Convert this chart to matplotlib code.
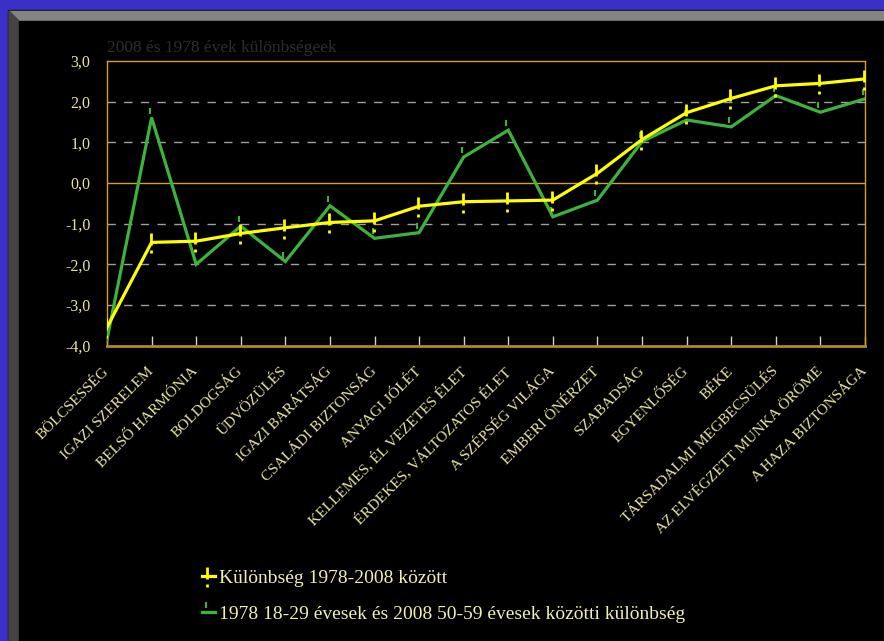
import numpy as np
import matplotlib
matplotlib.use('Agg')
import matplotlib.pyplot as plt
from matplotlib.patches import Rectangle, Polygon
from matplotlib.path import Path
from matplotlib.lines import Line2D

# data
categories = ['BÖLCSESSÉG', 'IGAZI SZERELEM', 'BELSŐ HARMÓNIA', 'BOLDOGSÁG',
              'ÜDVÖZÜLÉS', 'IGAZI BARÁTSÁG', 'CSALÁDI BIZTONSÁG', 'ANYAGI JÓLÉT',
              'KELLEMES, ÉL VEZETES ÉLET', 'ÉRDEKES, VÁLTOZATOS ÉLET',
              'A SZÉPSÉG VILÁGA', 'EMBERI ÖNÉRZET', 'SZABADSÁG', 'EGYENLŐSÉG',
              'BÉKE', 'TÁRSADALMI MEGBECSÜLÉS', 'AZ ELVÉGZETT MUNKA ÖRÖME',
              'A HAZA BIZTONSÁGA']
diff_all = [-3.55, -1.46, -1.43, -1.24, -1.10, -0.97, -0.93, -0.57, -0.46,
            -0.44, -0.42, 0.24, 1.07, 1.73, 2.08, 2.39, 2.45, 2.56]
diff_age = [-3.85, 1.61, -2.00, -1.06, -1.93, -0.56, -1.36, -1.22, 0.64,
            1.30, -0.83, -0.42, 1.02, 1.55, 1.38, 2.15, 1.74, 2.07]
yticks = [3, 2, 1, 0, -1, -2, -3, -4]
label_all = 'Különbség 1978-2008 között'
label_age = '1978 18-29 évesek és 2008 50-59 évesek közötti különbség'
subtitle = '2008 és 1978 évek különbségeek'

W, H = 884, 641
YEL = '#FFFF00'
GRN = '#3CB43C'
TXT = '#E8E4A0'
GOLD = '#D8A020'
serif = 'Liberation Serif'

fig = plt.figure(figsize=(W / 100, H / 100), dpi=100, facecolor='#3A30C8')


def fx(x):
    return x / W


def fy(y):
    return 1 - y / H


# window frame
fig.patches.append(Rectangle((fx(8), fy(H)), fx(W - 8), (H - 10) / H,
                             transform=fig.transFigure, color='#101010', zorder=-5))
fig.patches.append(Polygon([(fx(9), fy(11)), (fx(W), fy(11)), (fx(W), fy(21)), (fx(19), fy(21))],
                           closed=True, transform=fig.transFigure, color='#848484', zorder=-4))
fig.patches.append(Polygon([(fx(9), fy(11)), (fx(19), fy(21)), (fx(19), fy(H)), (fx(9), fy(H))],
                           closed=True, transform=fig.transFigure, color='#444444', zorder=-4))
fig.patches.append(Rectangle((fx(19), fy(H)), fx(W - 19), (H - 21) / H,
                             transform=fig.transFigure, color='black', zorder=-4))

ax = fig.add_axes([fx(107), fy(345.7), fx(865 - 107), (345.7 - 61) / H])
ax.set_facecolor('black')

x = np.arange(len(categories))

# error-bar like markers (in pixels, 1 unit = 1 px)
yel_mark = Path([(-1, 9.5), (-1, -3.3), (-1, -7.7), (-1, -10.7)],
                [Path.MOVETO, Path.LINETO, Path.MOVETO, Path.LINETO])
grn_mark = Path([(-2, 4), (-2, 10)], [Path.MOVETO, Path.LINETO])

ax.plot(x, diff_age, color=GRN, lw=2.3, marker=grn_mark, ms=20 * 0.72,
        mec=GRN, mew=1.5, zorder=3, solid_joinstyle='miter')
ax.plot(x, diff_all, color=YEL, lw=2.3, marker=yel_mark, ms=21.4 * 0.72,
        mec=YEL, mew=2.0, zorder=4, solid_joinstyle='miter')

ax.set_xlim(0, len(categories) - 1)
ax.set_ylim(-4, 3)

for v in [2, 1, -1, -2, -3]:
    ax.axhline(v, color='#A0A0A0', lw=1, dashes=(6, 6), zorder=1)
ax.axhline(0, color=GOLD, lw=1, zorder=2)

for s in ['top', 'left', 'right']:
    ax.spines[s].set_color(GOLD)
    ax.spines[s].set_linewidth(1)
ax.spines['bottom'].set_color('#B08A30')
ax.spines['bottom'].set_linewidth(2)

ax.set_yticks(yticks)
ax.set_yticklabels([f'{v:.1f}'.replace('.', ',') for v in yticks],
                   fontfamily=serif, fontsize=11.5, color=TXT)
ax.tick_params(axis='y', length=0, pad=12)

ax.set_xticks(x)
ax.set_xticklabels(categories, rotation=45, ha='right', va='center',
                   rotation_mode='anchor', fontfamily=serif, fontsize=11, color=TXT)
ax.tick_params(axis='x', direction='in', length=7, color='#D0D0D0', width=1, pad=17)

fig.text(fx(107), fy(52), subtitle, fontfamily=serif, fontsize=12.5,
         color='#2E2E2E', ha='left', va='baseline')

handles = [Line2D([], [], color=YEL, lw=2.3, marker=yel_mark, ms=21.4 * 0.72, mec=YEL, mew=2.0),
           Line2D([], [], color=GRN, lw=2.3, marker=grn_mark, ms=20 * 0.72, mec=GRN, mew=1.5)]
leg = fig.legend(handles, [label_all, label_age], loc='upper left',
                 bbox_to_anchor=(fx(202), fy(569)), frameon=False,
                 prop={'family': serif, 'size': 14}, handlelength=0.65,
                 handletextpad=0.2, labelspacing=0.95, borderaxespad=0, borderpad=0)
for t in leg.get_texts():
    t.set_color('#F0EEB0')

fig.savefig('out.png', dpi=100, facecolor=fig.get_facecolor())
